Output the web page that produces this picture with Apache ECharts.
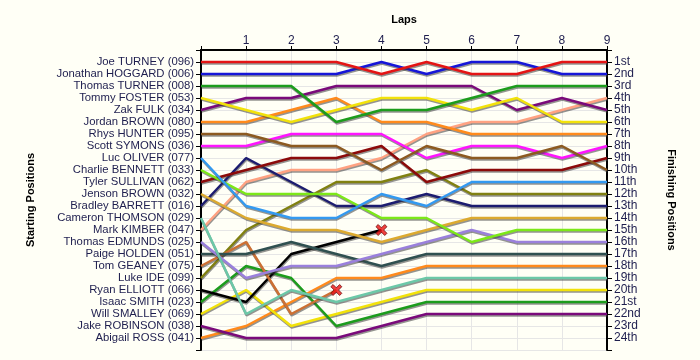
<!DOCTYPE html>
<html>
<head>
<meta charset="utf-8">
<script src="https://cdn.jsdelivr.net/npm/echarts@6/dist/echarts.min.js"></script>
<style>
html,body{margin:0;padding:0;background:#fffff6;}
#c{width:700px;height:360px;}
</style>
</head>
<body>
<div id="c"></div>
<script>
const lapTicks = [0,1,2,3,4,5,6,7,8,9];
const drivers = [
  "Joe TURNEY (096)","Jonathan HOGGARD (006)","Thomas TURNER (008)","Tommy FOSTER (053)",
  "Zak FULK (034)","Jordan BROWN (080)","Rhys HUNTER (095)","Scott SYMONS (036)",
  "Luc OLIVER (077)","Charlie BENNETT (033)","Tyler SULLIVAN (062)","Jenson BROWN (032)",
  "Bradley BARRETT (016)","Cameron THOMSON (029)","Mark KIMBER (047)","Thomas EDMUNDS (025)",
  "Paige HOLDEN (051)","Tom GEANEY (075)","Luke IDE (099)","Ryan ELLIOTT (066)",
  "Isaac SMITH (023)","Will SMALLEY (069)","Jake ROBINSON (038)","Abigail ROSS (041)"
];
const finishLabels = ["1st","2nd","3rd","4th","5th","6th","7th","8th","9th","10th","11th","12th",
  "13th","14th","15th","16th","17th","18th","19th","20th","21st","22nd","23rd","24th"];
const colors = [
  "#e41414","#1616d8","#1c9c1c","#f2e20a","#7a0a7a","#ff8a1c","#8c5a20","#ff14ff",
  "#3399f0","#7ce818","#8c0a0a","#dcaa30","#1c1c70","#6cc8a8","#ffa282","#9a80dc",
  "#2f5050","#cc7034","#808010","#000000","#1c9c1c","#f2e20a","#7a0a7a","#ff8a1c"
];
// positions by lap (lap 0 = grid). Shorter arrays = retired.
const positions = [
  [1,1,1,1,2,1,2,2,1,1],
  [2,2,2,2,1,2,1,1,2,2],
  [3,3,3,6,5,5,4,3,3,3],
  [4,5,6,5,4,4,5,4,6,6],
  [5,4,4,3,3,3,3,5,4,5],
  [6,6,5,4,6,6,7,7,7,7],
  [7,7,8,8,10,8,9,9,8,10],
  [8,8,7,7,7,9,8,8,9,8],
  [9,13,14,14,12,13,11,11,11,11],
  [10,12,12,12,14,14,16,15,15,15],
  [11,10,9,9,8,11,10,10,10,9],
  [12,14,15,15,16,15,14,14,14,14],
  [13,9,11,13,13,12,13,13,13,13],
  [14,22,20,21,20,19,19,19,19,19],
  [15,11,10,10,9,7,6,6,5,4],
  [16,19,18,18,17,16,15,16,16,16],
  [17,17,16,17,18,17,17,17,17,17],
  [18,16,22,20],
  [19,15,13,11,11,10,12,12,12,12],
  [20,21,17,16,15],
  [21,18,19,23,22,21,21,21,21,21],
  [22,20,23,22,21,20,20,20,20,20],
  [23,24,24,24,23,22,22,22,22,22],
  [24,23,21,19,19,18,18,18,18,18]
];

const xPath = 'path://M0,2 L2,0 L5,3 L8,0 L10,2 L7,5 L10,8 L8,10 L5,7 L2,10 L0,8 L3,5 Z';
const totalLaps = lapTicks[lapTicks.length-1];
const series = [];
positions.forEach((arr, i) => {
  const data = arr.map((p, lap) => [lapTicks[lap], p]);
  series.push({
    type: 'line', name: drivers[i], data: data, symbol: 'none', animation: false,
    z: 2 + (24 - i) * 0.01,
    lineStyle: {color: colors[i], width: 2.5, shadowColor: 'rgba(60,60,60,0.55)', shadowOffsetY: 1.5, shadowOffsetX: 0.5, shadowBlur: 0}
  });
});
const retired = [];
positions.forEach((arr) => {
  if (arr.length - 1 < totalLaps) retired.push([arr.length - 1, arr[arr.length - 1]]);
});
series.push({
  type: 'scatter', data: retired, symbol: xPath, symbolSize: 11, z: 10, animation: false,
  itemStyle: {color: '#ee1010', borderColor: '#701010', borderWidth: 1}
});

const labelColor = '#1e1e4e';
const chart = echarts.init(document.getElementById('c'), null, {renderer: 'canvas'});
chart.setOption({
  backgroundColor: '#fffff6',
  animation: false,
  grid: {left: 201, right: 93, top: 50, bottom: 10},
  xAxis: {
    type: 'value', min: 0, max: 9, interval: 1, position: 'top',
    name: 'Laps', nameLocation: 'middle', nameGap: 25,
    nameTextStyle: {fontFamily: 'Liberation Sans', fontWeight: 'bold', fontSize: 11, color: '#000'},
    axisLine: {show: true, lineStyle: {color: '#000', width: 2}},
    axisTick: {show: true, length: 4, lineStyle: {color: '#000'}},
    axisLabel: {fontFamily: 'Liberation Sans', fontSize: 12, color: labelColor, margin: 3,
      formatter: v => (v === 0 ? '' : String(v))},
    splitLine: {show: true, lineStyle: {color: '#e6e6e6', width: 1}}
  },
  yAxis: [{
    type: 'value', min: 0, max: 25, interval: 1, inverse: true, position: 'left',
    name: 'Starting Positions', nameLocation: 'middle', nameGap: 165, nameRotate: 90,
    nameTextStyle: {fontFamily: 'Liberation Sans', fontWeight: 'bold', fontSize: 11, color: '#000'},
    axisLine: {show: true, lineStyle: {color: '#000', width: 2}},
    axisTick: {show: true, length: 5, lineStyle: {color: '#000'}},
    axisLabel: {fontFamily: 'Liberation Sans', fontSize: 11.3, color: labelColor, margin: 7,
      formatter: v => drivers[v - 1] || ''},
    splitLine: {show: true, lineStyle: {color: '#e6e6e6', width: 1}}
  }, {
    type: 'value', min: 0, max: 25, interval: 1, inverse: true, position: 'right',
    name: 'Finishing Positions', nameLocation: 'middle', nameGap: 59, nameRotate: -90,
    nameTextStyle: {fontFamily: 'Liberation Sans', fontWeight: 'bold', fontSize: 11, color: '#000'},
    axisLine: {show: true, lineStyle: {color: '#000', width: 2}},
    axisTick: {show: true, length: 5, lineStyle: {color: '#000'}},
    axisLabel: {fontFamily: 'Liberation Sans', fontSize: 12, color: labelColor, margin: 7,
      formatter: v => finishLabels[v - 1] || ''},
    splitLine: {show: false}
  }],
  series: series
});
</script>
</body>
</html>
